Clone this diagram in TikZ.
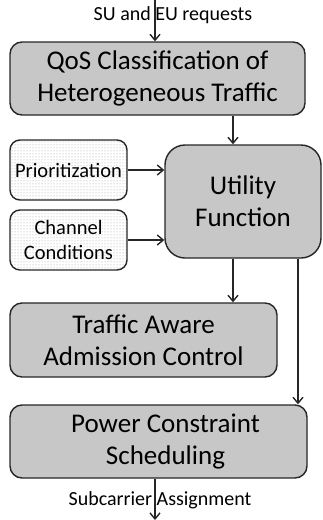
\documentclass[tikz,border=0pt]{standalone}
\usepackage{fontspec}
\setmainfont{Carlito}
\usetikzlibrary{arrows.meta, patterns, positioning}

\tikzset{
  block/.style = {draw=black!85, line width=1.4pt, fill=black!22, rounded corners=12pt,
                  align=center, inner sep=0pt, font=\fontsize{27}{32}\selectfont},
  input/.style = {draw=black!85, line width=1.4pt, rounded corners=10pt, align=center,
                  inner sep=0pt, pattern=dots, pattern color=black!40,
                  minimum width=117pt, minimum height=60pt, font=\fontsize{20.5}{25}\selectfont},
  flow/.style  = {-{Straight Barb[length=6pt,width=10pt]}, line width=1.4pt, black!85},
  tag/.style   = {font=\fontsize{20}{24}\selectfont, inner sep=0pt}
}

\begin{document}
\begin{tikzpicture}[x=1pt, y=-1pt]
\useasboundingbox (0,0) rectangle (323,520);

% main blocks
\node (qos) [block, minimum width=295pt, minimum height=73pt] at (157.5,78.5)
  {QoS Classification of\\Heterogeneous Traffic};
\node (util) [block, rounded corners=20pt, minimum width=156pt, minimum height=113pt]
  at (243,201.5) {Utility\\Function};
\node (prio) [input] at (68.5,170) {Prioritization};
\node (chan) [input] at (68.5,240) {Channel\\Conditions};
\node (tac) [block, minimum width=267pt, minimum height=74pt] at (143.5,340)
  {Traffic Aware\\Admission Control};
\node (pcs) [block, minimum width=297pt, minimum height=73pt] at (158.5,441.5)
  {\hspace*{14pt}Power Constraint\\\hspace*{14pt}Scheduling};

% free ends and labels
\coordinate (top) at (155,0);
\coordinate (bottom) at (155,520);
\node (req) [tag] at (173,15) {SU and EU requests};
\node (sub) [tag] at (160,500) {Subcarrier Assignment};

% connectors
\draw [flow] (top) -- (top |- qos.north);
\draw [flow] (qos.south -| 233,0) -- (util.north -| 233,0);
\draw [flow] (prio.east) -- (prio.east -| util.west);
\draw [flow] (chan.east) -- (chan.east -| util.west);
\draw [flow] (util.south -| 233,0) -- (tac.north -| 233,0);
\draw [flow] (util.south -| 298,0) -- (pcs.north -| 298,0);
\draw [flow] (pcs.south -| bottom) -- (bottom);
\end{tikzpicture}
\end{document}
